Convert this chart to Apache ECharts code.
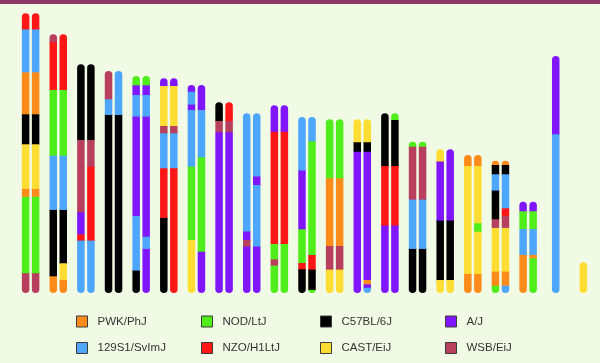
<!DOCTYPE html>
<html><head><meta charset="utf-8">
<script src="https://cdn.jsdelivr.net/npm/echarts@6/dist/echarts.min.js"></script>
<style>html,body{margin:0;padding:0;background:#F0FAE4}#c{width:600px;height:363px}</style>
</head><body><div id="c"></div>
<script>
// Chromosomes (categories)
const chromosomes = ['1','2','3','4','5','6','7','8','9','10','11','12','13','14','15','16','17','18','19','X','Y'];
// Founder strains in legend order, with their one-letter codes
const strainNames = ['PWK/PhJ','NOD/LtJ','C57BL/6J','A/J','129S1/SvImJ','NZO/H1LtJ','CAST/EiJ','WSB/EiJ'];
const strainCodes = ['G','D','B','A','C','E','F','H'];
const strainColors = ['#FF8C1A','#4FEE1A','#000000','#7F16FF','#4DA6FF','#FF1616','#FFDD33','#B8405E'];

// Haplotype segments per chromosome copy, listed from top (distal) to bottom: [strain code, length]
const chr1 = [
  [['E',15.7],['C',42.7],['G',42.6],['B',30],['F',44],['G',8.4],['D',76.6],['H',19.7]],
  [['E',15.7],['C',42.7],['G',42.6],['B',30],['F',44],['G',8.4],['D',76.6],['H',19.7]]];
const chr2 = [
  [['H',7.4],['E',47.6],['D',66.4],['C',53.6],['B',66.4],['G',17.3]],
  [['E',55],['D',66.4],['C',53.6],['B',54],['F',16],['G',13.7]]];
const chr3 = [
  [['B',75.7],['H',71.7],['A',22.6],['E',5.7],['C',53]],
  [['B',75.7],['H',26],['E',74],['C',53]]];
const chr4 = [
  [['H',27.7],['C',15.6],['B',178.7]],
  [['C',43.3],['B',178.7]]];
const chr5 = [
  [['D',9.3],['A',9.7],['C',21],['A',100],['C',54],['B',23]],
  [['D',9.3],['A',9.7],['C',21],['A',120.7],['C',11.6],['A',44.7]]];
const chr6 = [
  [['A',7.7],['F',40],['H',6.7],['C',35.6],['E',49],['B',75.7]],
  [['A',7.7],['F',40],['H',6.7],['C',35.6],['E',124.7]]];
const chr7 = [
  [['A',6.7],['C',12.3],['A',6],['C',56],['D',74],['F',53]],
  [['A',25],['C',46.7],['D',95],['A',41.3]]];
const chr8 = [
  [['B',18.7],['H',10.7],['A',161.3]],
  [['E',18.7],['H',10.7],['A',161.3]]];
const chr9 = [
  [['C',117.7],['A',9],['H',6],['A',47]],
  [['C',62.7],['A',9],['C',61],['A',47]]];
const chr10 = [
  [['A',26.4],['E',111.6],['D',16],['H',5.7],['D',28]],
  [['A',26.4],['E',111.6],['D',49.7]]];
const chr11 = [
  [['C',53],['A',58.7],['D',34.3],['E',5.7],['B',24.3]],
  [['C',23.7],['D',114.3],['E',14],['B',20.3],['D',3.7]]];
const chr12 = [
  [['D',58.4],['G',68.3],['H',23],['F',24]],
  [['D',58.4],['G',68.3],['H',23],['F',24]]];
const chr13 = [
  [['F',22.4],['B',10],['A',141.3]],
  [['F',22.4],['B',10],['A',127.6],['G',5],['A',3.4],['C',5.3]]];
const chr14 = [
  [['B',52.7],['E',59],['A',68]],
  [['D',6.7],['B',46],['E',59],['A',68]]];
const chr15 = [
  [['D',5],['H',52.3],['C',49.3],['B',44.7]],
  [['D',5],['H',52.3],['C',49.3],['B',44.7]]];
const chr16 = [
  [['F',11.7],['A',59],['B',60],['F',13]],
  [['A',70.7],['B',60],['F',13]]];
const chr17 = [
  [['G',11],['F',107.3],['G',19.7]],
  [['G',11],['F',56.7],['D',9],['F',41.6],['G',19.7]]];
const chr18 = [
  [['G',4.3],['B',9.3],['C',15.7],['B',29.3],['H',8],['F',43.7],['G',14.7],['D',7.3]],
  [['G',4.3],['B',9.3],['C',34],['E',7.7],['H',11.3],['F',43.7],['G',14.7],['C',7.3]]];
const chr19 = [
  [['A',9],['D',18.3],['C',25.3],['G',38.7]],
  [['A',9],['D',18.3],['C',25.3],['G',4],['D',34.7]]];
const chrX = [
  [['A',78.3],['C',158.7]]];
const chrY = [
  [['F',30.7]]];

const genome = [chr1,chr2,chr3,chr4,chr5,chr6,chr7,chr8,chr9,chr10,chr11,chr12,chr13,chr14,chr15,chr16,chr17,chr18,chr19,chrX,chrY];

// Build per-strain segment tables: [chromIndex, copySide, top, bottom, roundTop, roundBottom]
const tables = strainCodes.map(() => []);
genome.forEach((copies, ci) => {
  copies.forEach((segs, k) => {
    const side = copies.length === 1 ? 0 : (k === 0 ? -1 : 1);
    let top = segs.reduce((s, d) => s + d[1], 0);
    segs.forEach((d, j) => {
      const bottom = Math.max(0, top - d[1]);
      tables[strainCodes.indexOf(d[0])].push([ci, side, top, bottom, j === 0 ? 1 : 0, j === segs.length - 1 ? 1 : 0]);
      top = bottom;
    });
  });
});

const BAR_W = 7.5, HALF_GAP = 5;
function makeRender(color) {
  return function (params, api) {
    const ci = api.value(0), side = api.value(1);
    const a = api.coord([ci, api.value(2)]);
    const b = api.coord([ci, api.value(3)]);
    const rt = api.value(4) ? BAR_W / 2 : 0, rb = api.value(5) ? BAR_W / 2 : 0;
    const cx = a[0] + side * HALF_GAP;
    return {
      type: 'rect',
      shape: { x: cx - BAR_W / 2, y: a[1], width: BAR_W, height: b[1] - a[1] + (rb ? 0 : 0.6), r: [rt, rt, rb, rb] },
      style: { fill: color }
    };
  };
}

const series = strainCodes.map((code, k) => ({
  type: 'custom',
  name: strainNames[k],
  coordinateSystem: 'cartesian2d',
  itemStyle: { color: strainColors[k] },
  encode: { x: 0, y: 2 },
  data: tables[k],
  renderItem: makeRender(strainColors[k]),
  silent: true
}));

const legendLefts = [76, 201, 320, 445];
const legendTops = [315.5, 342];
const legends = strainNames.map((n, k) => ({
  data: [n],
  left: legendLefts[k % 4],
  top: legendTops[Math.floor(k / 4)],
  padding: 0,
  itemWidth: 11,
  itemHeight: 11,
  icon: 'rect',
  itemStyle: { borderColor: '#3a3a3a', borderWidth: 1 },
  textStyle: { fontFamily: 'Liberation Sans', fontSize: 11.5, color: '#333', padding: [0, 0, 0, 5] },
  selectedMode: false
}));

const chart = echarts.init(document.getElementById('c'), null, { renderer: 'canvas' });
chart.setOption({
  backgroundColor: '#F0FAE4',
  animation: false,
  graphic: [{ type: 'rect', left: 0, top: 0, shape: { width: 600, height: 4 }, style: { fill: '#8C3769' } }],
  grid: { left: 16.8, width: 580.4, top: 13, height: 280 },
  xAxis: { type: 'category', data: chromosomes, show: false, boundaryGap: true },
  yAxis: { type: 'value', min: 0, max: 280, show: false },
  legend: legends,
  series: series
});
</script>
</body></html>
